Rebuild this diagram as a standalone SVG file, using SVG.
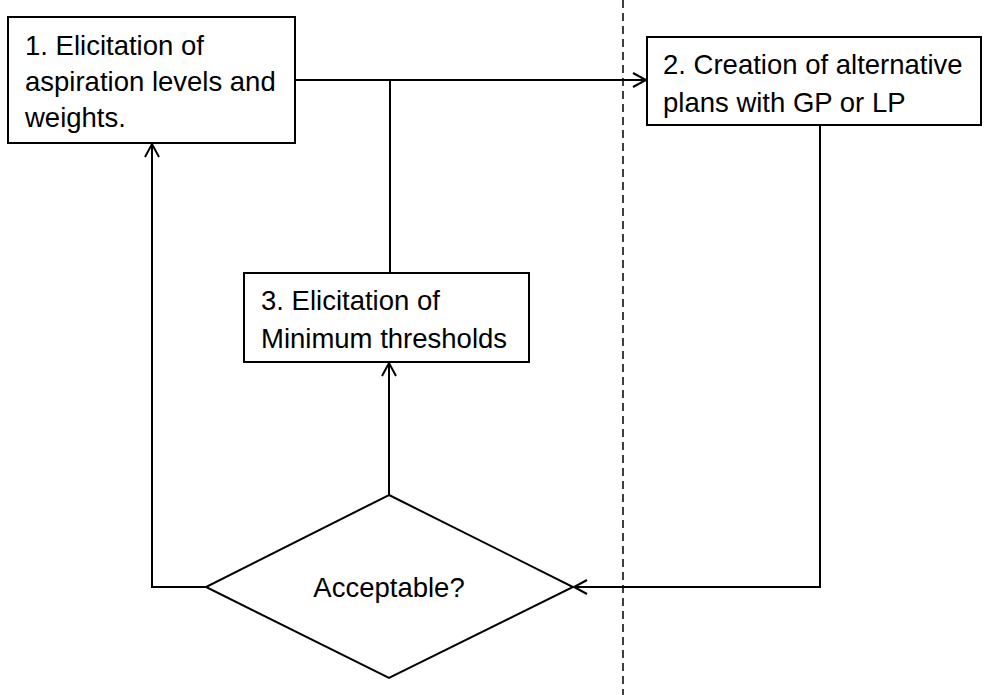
<svg xmlns="http://www.w3.org/2000/svg" width="986" height="695" viewBox="0 0 986 695">
<defs>
<marker id="arr" markerWidth="18" markerHeight="18" refX="15" refY="9" orient="auto" markerUnits="userSpaceOnUse">
<path d="M2,2 L15,9 L2,16" fill="none" stroke="#000" stroke-width="2"/>
</marker>
<style>
.box{fill:#fff;stroke:#000;stroke-width:2}
.ln{fill:none;stroke:#000;stroke-width:2}
.t{font-family:"Liberation Sans",Arial,sans-serif;font-size:27.5px;fill:#000}
</style>
</defs>
<rect width="986" height="695" fill="#fff"/>
<line x1="623" y1="0" x2="623" y2="695" stroke="#000" stroke-width="1.5" stroke-dasharray="8,5"/>
<g id="connectors">
<path class="ln" d="M295,80 H646" marker-end="url(#arr)"/>
<path class="ln" d="M390,80 V273"/>
<path class="ln" d="M389,495 V363" marker-end="url(#arr)"/>
<path class="ln" d="M206,587 H152 V144" marker-end="url(#arr)"/>
<path class="ln" d="M820,125 V587 H574" marker-end="url(#arr)"/>
</g>
<g id="node1">
<rect class="box" x="8" y="17" width="287" height="126"/>
<text class="t" x="25" y="55">1. Elicitation of</text>
<text class="t" x="25" y="91">aspiration levels and</text>
<text class="t" x="25" y="127">weights.</text>
</g>
<g id="node2">
<rect class="box" x="647" y="37" width="334" height="88"/>
<text class="t" x="663" y="74">2. Creation of alternative</text>
<text class="t" x="663" y="112">plans with GP or LP</text>
</g>
<g id="node3">
<rect class="box" x="244" y="273" width="285" height="89"/>
<text class="t" x="261" y="310">3. Elicitation of</text>
<text class="t" x="261" y="348">Minimum thresholds</text>
</g>
<g id="decision">
<polygon class="box" points="389,495 573,587 389,678 206,587"/>
<text class="t" x="389" y="597" text-anchor="middle">Acceptable?</text>
</g>
</svg>
